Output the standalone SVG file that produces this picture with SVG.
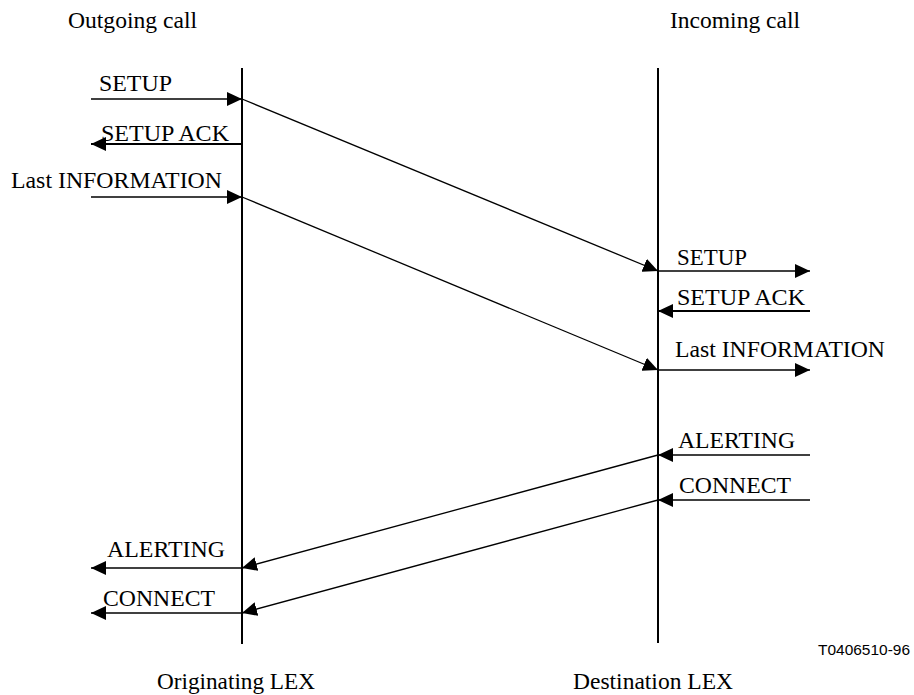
<svg xmlns="http://www.w3.org/2000/svg" width="914" height="695" viewBox="0 0 914 695">
  <style>
    .lbl { font-family: "Liberation Serif", "Times New Roman", serif; font-size: 24px; fill: #000; }
    .ttl { font-family: "Liberation Serif", "Times New Roman", serif; font-size: 23px; fill: #000; }
    .ref { font-family: "Liberation Sans", Arial, sans-serif; font-size: 15px; fill: #000; }
    .msg { stroke: #000; stroke-width: 1.3; fill: none; marker-end: url(#ah); }
    .msg.bold { stroke-width: 2; }
    .life { stroke: #000; stroke-width: 2; }
  </style>
  <defs>
    <marker id="ah" markerUnits="userSpaceOnUse" markerWidth="16" markerHeight="14" refX="15" refY="7" orient="auto">
      <path d="M0,0 L15,7 L0,14 z" fill="#000"/>
    </marker>
  </defs>
  <rect width="914" height="695" fill="#fff"/>

  <!-- exchanges (lifelines) -->
  <g id="originating-lex">
    <line class="life" x1="242" y1="68" x2="242" y2="644"/>
    <text class="ttl" x="68" y="28" textLength="129" lengthAdjust="spacingAndGlyphs">Outgoing call</text>
    <text class="ttl" x="157" y="689" textLength="158" lengthAdjust="spacingAndGlyphs">Originating LEX</text>
  </g>
  <g id="destination-lex">
    <line class="life" x1="658" y1="68" x2="658" y2="643"/>
    <text class="ttl" x="670" y="28" textLength="130" lengthAdjust="spacingAndGlyphs">Incoming call</text>
    <text class="ttl" x="573" y="689" textLength="160" lengthAdjust="spacingAndGlyphs">Destination LEX</text>
  </g>
  <g id="figure-ref">
    <text class="ref" x="818" y="655" textLength="92" lengthAdjust="spacingAndGlyphs">T0406510-96</text>
  </g>

  <!-- messages -->
  <g id="connectors">
    <!-- outgoing side -->
    <line class="msg" x1="91" y1="99" x2="242" y2="99"/>
    <line class="msg bold" x1="242" y1="144" x2="91" y2="144"/>
    <line class="msg" x1="91" y1="197" x2="242" y2="197"/>
    <!-- network -->
    <line class="msg" x1="242" y1="99" x2="658" y2="271"/>
    <line class="msg" x1="242" y1="197" x2="658" y2="370"/>
    <!-- incoming side -->
    <line class="msg" x1="658" y1="271" x2="810" y2="271"/>
    <line class="msg bold" x1="810" y1="311" x2="658" y2="311"/>
    <line class="msg" x1="658" y1="370" x2="810" y2="370"/>
    <line class="msg" x1="810" y1="455" x2="658" y2="455"/>
    <line class="msg" x1="810" y1="500" x2="658" y2="500"/>
    <!-- network back -->
    <line class="msg" x1="658" y1="455" x2="242" y2="568"/>
    <line class="msg" x1="658" y1="500" x2="242" y2="613"/>
    <!-- outgoing side -->
    <line class="msg" x1="242" y1="568" x2="91" y2="568"/>
    <line class="msg" x1="242" y1="613" x2="91" y2="613"/>
  </g>

  <g id="labels">
    <text class="lbl" x="99" y="91" textLength="73" lengthAdjust="spacingAndGlyphs">SETUP</text>
    <text class="lbl" x="101" y="141" textLength="128" lengthAdjust="spacingAndGlyphs">SETUP ACK</text>
    <text class="lbl" x="11" y="188" textLength="211" lengthAdjust="spacingAndGlyphs">Last INFORMATION</text>
    <text class="lbl" x="677" y="265" textLength="70" lengthAdjust="spacingAndGlyphs">SETUP</text>
    <text class="lbl" x="677" y="305" textLength="128" lengthAdjust="spacingAndGlyphs">SETUP ACK</text>
    <text class="lbl" x="675" y="357" textLength="210" lengthAdjust="spacingAndGlyphs">Last INFORMATION</text>
    <text class="lbl" x="678" y="448" textLength="117" lengthAdjust="spacingAndGlyphs">ALERTING</text>
    <text class="lbl" x="679" y="493" textLength="112" lengthAdjust="spacingAndGlyphs">CONNECT</text>
    <text class="lbl" x="107" y="557" textLength="118" lengthAdjust="spacingAndGlyphs">ALERTING</text>
    <text class="lbl" x="103" y="606" textLength="112" lengthAdjust="spacingAndGlyphs">CONNECT</text>
  </g>
</svg>
